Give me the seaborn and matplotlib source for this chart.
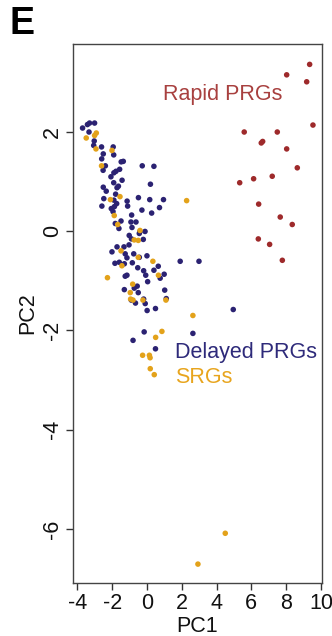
import numpy as np
import pandas as pd
import matplotlib
matplotlib.use("Agg")
import matplotlib.pyplot as plt
import seaborn as sns

# ---- data ----
rapid_x = [9.35, 8.03, 9.18, 9.54, 5.59, 7.49, 6.65, 6.57, 8.03, 8.64,
           7.20, 6.13, 5.33, 6.42, 7.66, 8.35, 6.40, 7.05, 7.78]
rapid_y = [3.35, 3.14, 3.00, 2.13, 1.99, 1.99, 1.80, 1.77, 1.65, 1.27,
           1.10, 1.05, 0.97, 0.54, 0.28, 0.13, -0.16, -0.27, -0.59]

delayed_x = [-3.70, -3.42, -3.30, -3.01, -3.33, -3.03, -3.06, -2.61, -1.94, -2.51,
             -1.91, -2.60, -2.39, -2.52, -1.36, -1.48, -0.27, 0.40, -1.57, -1.78,
             -1.90, -2.07, -1.43, -1.91, -1.64, -1.72, -2.51, -2.34, 0.20, -2.48,
             -1.80, -1.14, -0.49, 0.16, 0.95, -1.90, -1.74, -2.59, -2.05, -1.87,
             -1.11, -0.29, 0.72, 0.27, -1.95, -0.88, -1.49, -1.82, -0.92, -0.63,
             -0.86, -1.61, -0.11, -0.40, -0.44, -1.02, -0.21, -0.89, -1.03, -1.32,
             -1.72, -2.01, -1.25, -0.76, -1.15, -0.44, 0.00, -1.84, -1.59, -1.30,
             -0.84, -0.53, -0.19, 0.65, -1.15, -1.25, 0.40, -0.07, 0.76, 0.99,
             0.04, -0.56, -0.73, -1.30, -0.50, 1.02, 1.11, -0.19, -0.10, -0.66,
             0.01, 0.49, -0.90, 1.91, 2.99, 4.96, 2.64, -0.16, -0.80, 0.49]
delayed_y = [2.07, 2.14, 2.17, 2.17, 1.99, 1.81, 1.72, 1.69, 1.69, 1.55,
             1.53, 1.45, 1.31, 1.22, 1.40, 1.39, 1.31, 1.30, 1.24, 1.20,
             1.17, 1.09, 1.02, 0.97, 0.90, 0.87, 0.88, 0.80, 0.94, 0.65,
             0.74, 0.60, 0.67, 0.63, 0.63, 0.62, 0.55, 0.50, 0.45, 0.49,
             0.50, 0.42, 0.47, 0.36, 0.39, 0.32, 0.20, 0.15, 0.18, 0.18,
             0.07, 0.05, -0.01, -0.01, -0.05, -0.09, -0.17, -0.16, -0.28, -0.32,
             -0.32, -0.42, -0.46, -0.46, -0.54, -0.53, -0.50, -0.65, -0.63, -0.66,
             -0.64, -0.74, -0.80, -0.71, -0.89, -0.91, -0.79, -0.89, -0.95, -0.87,
             -1.02, -1.11, -1.15, -1.18, -1.24, -1.19, -1.36, -1.37, -1.46, -1.45,
             -1.60, -1.56, -1.39, -0.61, -0.61, -1.58, -2.06, -2.03, -2.20, -2.37]

srg_x = [-3.49, -3.01, -2.91, -2.93, -2.01, -2.61, -1.55, -2.10, 2.28, -1.88,
         -1.68, -0.40, -0.73, -0.50, -1.49, -1.44, -2.27, -0.50, 0.34, 0.66,
         -0.82, -0.96, -0.94, -0.80, -0.23, 1.09, 2.64, 0.86, 0.50, -0.25,
         0.14, 0.18, 0.19, 0.42, 4.50, 2.93]
srg_y = [1.87, 1.92, 1.97, 1.65, 1.62, 1.31, 0.69, 0.63, 0.61, 0.31,
         0.13, 0.01, -0.18, -0.19, -0.40, -0.70, -0.94, -0.53, -0.61, -0.89,
         -1.07, -1.24, -1.37, -1.39, -1.39, -1.39, -1.70, -2.02, -2.14, -2.50,
         -2.50, -2.55, -2.77, -2.89, -6.08, -6.70]

groups = ["Delayed PRGs", "SRGs", "Rapid PRGs"]
xticks = [-4, -2, 0, 2, 4, 6, 8, 10]
yticks = [2, 0, -2, -4, -6]

colors = {"Rapid PRGs": "#9E2A2B", "Delayed PRGs": "#2B2272", "SRGs": "#E3A21A"}
text_colors = {"Rapid PRGs": "#A8403F", "Delayed PRGs": "#2E2A7A", "SRGs": "#E8A51E"}

df = pd.concat([
    pd.DataFrame({"PC1": delayed_x, "PC2": delayed_y, "group": groups[0]}),
    pd.DataFrame({"PC1": srg_x, "PC2": srg_y, "group": groups[1]}),
    pd.DataFrame({"PC1": rapid_x, "PC2": rapid_y, "group": groups[2]}),
], ignore_index=True)

sns.set_theme(style="white")
plt.rcParams["font.family"] = ["Liberation Sans", "DejaVu Sans"]

fig = plt.figure(figsize=(3.32, 6.36), dpi=100)
ax = fig.add_axes([73 / 332, 1 - 583 / 636, 249 / 332, 539 / 636])

sns.scatterplot(data=df, x="PC1", y="PC2", hue="group", hue_order=groups,
                palette=colors, s=16, linewidth=0, legend=False, ax=ax)

ax.set_xlim(-4.25, 10.06)
ax.set_ylim(-7.08, 3.76)
ax.set_xticks(xticks)
ax.set_xticklabels([str(t) for t in xticks], fontsize=15.5)
ax.set_yticks(yticks)
ax.set_yticklabels([str(t) for t in yticks], fontsize=15.5, rotation=90, va="center")
ax.tick_params(axis="both", direction="out", length=5, width=1, color="#333333",
               labelcolor="#111111", pad=2, left=True, bottom=True)
for sp in ax.spines.values():
    sp.set_color("#444444")
    sp.set_linewidth(1)
ax.set_xlabel("PC1", fontsize=15.5, color="#111111", labelpad=2)
ax.set_ylabel("PC2", fontsize=15.5, color="#111111", labelpad=3)

ax.text(0.92, 2.74, "Rapid PRGs", color=text_colors["Rapid PRGs"], fontsize=15.5,
        ha="left", va="center")
ax.text(1.61, -2.45, "Delayed PRGs", color=text_colors["Delayed PRGs"], fontsize=15.5,
        ha="left", va="center")
ax.text(1.61, -2.94, "SRGs", color=text_colors["SRGs"], fontsize=15.5,
        ha="left", va="center")

fig.text(10 / 332, 1 - 24 / 636, "E", fontsize=27, fontweight="bold",
         ha="left", va="center", color="#000000")

fig.savefig("out.png", dpi=100)
